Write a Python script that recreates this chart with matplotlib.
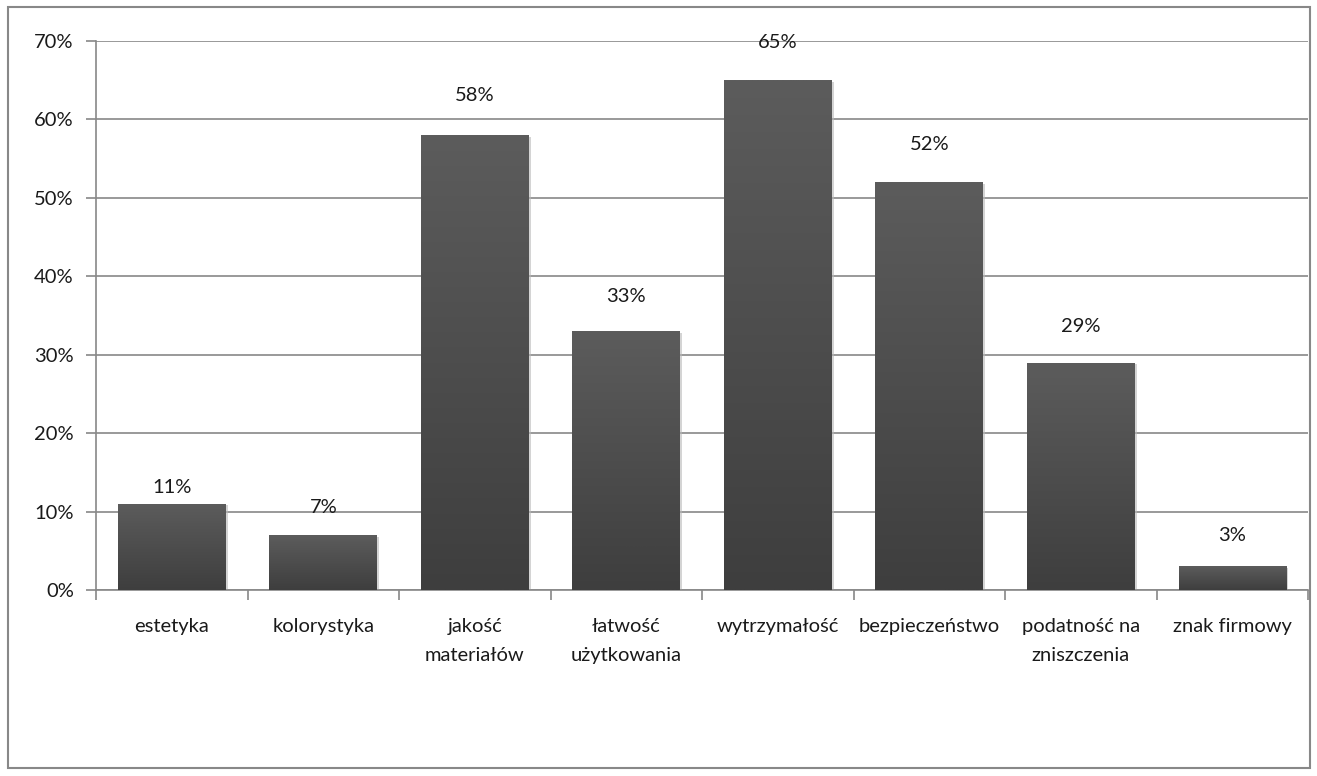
import numpy as np
import matplotlib.pyplot as plt
from matplotlib.patches import Rectangle
from matplotlib.colors import LinearSegmentedColormap

# dane z wykresu
kategorie = ['estetyka', 'kolorystyka', 'jakość\nmateriałów', 'łatwość\nużytkowania',
             'wytrzymałość', 'bezpieczeństwo', 'podatność na\nzniszczenia', 'znak firmowy']
wartosci = [11, 7, 58, 33, 65, 52, 29, 3]
etykiety = ['11%', '7%', '58%', '33%', '65%', '52%', '29%', '3%']
odstep_px = [16, 28, 40, 35, 38, 38, 36, 31]  # srodek etykiety nad slupkiem

plt.rcParams['font.family'] = ['Lato', 'DejaVu Sans']
fs = 14.5

fig = plt.figure(figsize=(13.17, 7.76), dpi=100)
ax = fig.add_axes([0.0729, 0.2397, 0.9203, 0.7075])

x = np.arange(len(kategorie))
szer = 0.71
bars = ax.bar(x, wartosci, width=szer, color='none', zorder=3)

# gradient + cien dla slupkow
grad = np.linspace(0, 1, 256).reshape(-1, 1)
cmap = LinearSegmentedColormap.from_list('g', ['#3e3e3e', '#5c5c5c'])
for b in bars:
    x0, w, h = b.get_x(), b.get_width(), b.get_height()
    cien = Rectangle((x0 + 0.015, 0), w, h - 0.2, facecolor='#b8b8b8', alpha=0.6,
                     edgecolor='none', zorder=2)
    ax.add_patch(cien)
    im = ax.imshow(grad, cmap=cmap, extent=[x0, x0 + w, 0, h], aspect='auto',
                   origin='lower', zorder=3)
    im.set_clip_path(b)

for i, (v, t) in enumerate(zip(wartosci, etykiety)):
    ax.annotate(t, (x[i], v), xytext=(0, odstep_px[i] * 0.72), textcoords='offset points',
                ha='center', va='center', fontsize=fs, color='#1a1a1a')

ax.set_xlim(-0.5, len(kategorie) - 0.5)
ax.set_ylim(0, 70)
ax.set_yticks(range(0, 71, 10))
ax.set_yticklabels([f'{v}%' for v in range(0, 71, 10)], fontsize=fs, color='#1a1a1a')
ax.set_xticks(x)
ax.set_xticklabels(kategorie, fontsize=fs, color='#1a1a1a', linespacing=1.85)
ax.tick_params(axis='x', length=0, pad=20)
ax.set_xticks(np.arange(-0.5, len(kategorie) + 0.5, 1), minor=True)
ax.tick_params(axis='x', which='minor', length=7, color='#888888', width=1.2)
ax.tick_params(axis='y', length=7, color='#888888', width=1.2, pad=9)

ax.grid(axis='y', color='#888888', linewidth=1.2, zorder=0)
ax.set_axisbelow(True)
for s in ['top', 'right']:
    ax.spines[s].set_visible(False)
for s in ['left', 'bottom']:
    ax.spines[s].set_color('#888888')
    ax.spines[s].set_linewidth(1.2)

# ramka wokol calosci
fig.patches.append(Rectangle((8 / 1317, 8 / 776), 1302 / 1317, 761 / 776,
                             transform=fig.transFigure, fill=False,
                             edgecolor='#888888', linewidth=1.5))

plt.savefig('out.png', dpi=100)
